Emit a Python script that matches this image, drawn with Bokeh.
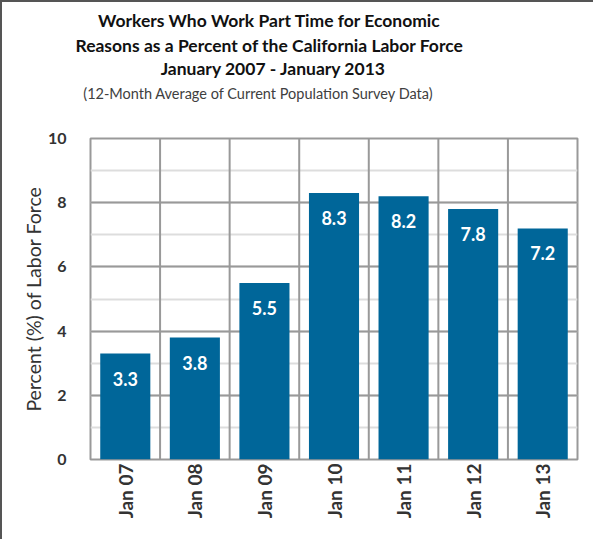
import math
from bokeh.plotting import figure
from bokeh.layouts import column, row
from bokeh.models import (FactorRange, Range1d, SingleIntervalTicker, Span,
                          ColumnDataSource)
from bokeh.core.properties import value
from bokeh.embed import file_html
from bokeh.resources import INLINE

# ---- data ----
categories = ["Jan 07", "Jan 08", "Jan 09", "Jan 10", "Jan 11", "Jan 12", "Jan 13"]
percent = [3.3, 3.8, 5.5, 8.3, 8.2, 7.8, 7.2]
title_lines = ["Workers Who Work Part Time for Economic",
               "Reasons as a Percent of the California Labor Force",
               "January 2007 - January 2013"]
subtitle = "(12-Month Average of Current Population Survey Data)"
y_label = "Percent (%) of Labor Force"

FONT = "Lato"
BAR = "#006699"
GRID = "#999999"
W = 591
TH = 124   # title area height
MH = 413   # main plot height
BL, BR = 88, 16   # left / right borders of the plot frame

# ---- title area (pixel coordinates, y measured from top) ----
t = figure(width=W, height=TH, output_backend="svg", toolbar_location=None,
           x_range=Range1d(0, W), y_range=Range1d(TH, 0),
           x_axis_location=None, y_axis_location=None,
           min_border=0, title=None)
t.grid.visible = False
t.outline_line_color = None
t.text(x=[267, 267, 271], y=[18, 43, 66], text=title_lines,
       text_align="center", text_baseline="middle", text_color="#111111",
       text_font=value(FONT), text_font_size="17.5px", text_font_style="bold")
t.text(x=[256], y=[91], text=[subtitle], text_align="center",
       text_baseline="middle", text_color="#404040", text_font=value(FONT),
       text_font_size="14.5px", text_font_style="normal")

# ---- main chart ----
src = ColumnDataSource(dict(cat=categories, val=percent,
                            lab=["%.1f" % v for v in percent]))

p = figure(width=W, height=MH, output_backend="svg", toolbar_location=None,
           x_range=FactorRange(*categories, range_padding=0),
           y_range=Range1d(0, 10),
           min_border_left=BL, min_border_right=BR, min_border_top=12,
           min_border_bottom=80, title=None)

p.outline_line_color = GRID
p.outline_line_width = 2

p.vbar(x="cat", top="val", width=0.72, source=src, fill_color=BAR,
       line_color=None)
p.text(x="cat", y="val", text="lab", source=src, text_align="center",
       text_baseline="middle", y_offset=25, text_color="white",
       text_font=value(FONT), text_font_size="18px", text_font_style="bold")

# vertical separators between categories
for k in range(1, len(categories)):
    p.add_layout(Span(location=k, dimension="height", line_color=GRID,
                      line_width=2, level="underlay"))

p.yaxis.ticker = SingleIntervalTicker(interval=2, num_minor_ticks=2)
p.ygrid.grid_line_color = GRID
p.ygrid.grid_line_width = 2
p.ygrid.minor_grid_line_color = "#dddddd"
p.ygrid.minor_grid_line_width = 2
p.xgrid.grid_line_color = None
for ax in (p.xaxis, p.yaxis):
    ax.axis_line_color = None
    ax.major_tick_line_color = None
    ax.minor_tick_line_color = None
    ax.major_label_text_font = FONT
    ax.major_label_text_font_style = "bold"
    ax.major_label_text_color = "#333333"
p.yaxis.major_label_text_font_size = "16px"
p.yaxis.major_label_standoff = 18
p.yaxis.axis_label = y_label
p.yaxis.axis_label_text_font = FONT
p.yaxis.axis_label_text_font_size = "19.5px"
p.yaxis.axis_label_text_font_style = "normal"
p.yaxis.axis_label_text_color = "#333333"
p.yaxis.axis_label_standoff = 0

p.xaxis.major_label_orientation = math.pi / 2
p.xaxis.major_label_text_font_size = "19px"
p.xaxis.major_label_standoff = -2

# the title figure is wrapped in its own row so its frame is not aligned
# with the chart's frame
layout = column(row(t), p, spacing=0)
layout.styles = {"border-left": "2px solid #555555",
                 "border-top": "2px solid #555555"}

open("out.html", "w").write(file_html(layout, INLINE))
